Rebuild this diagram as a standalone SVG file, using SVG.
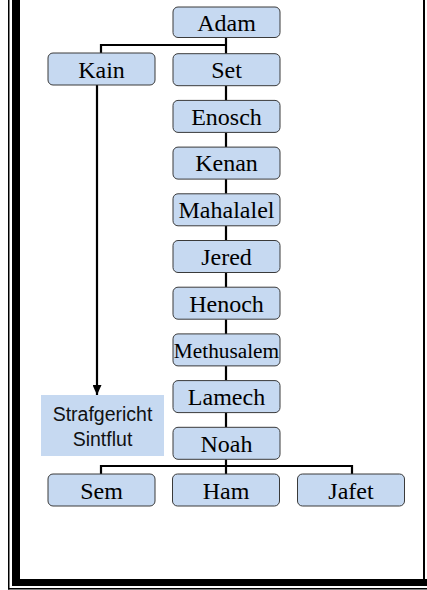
<svg xmlns="http://www.w3.org/2000/svg" width="427" height="590" viewBox="0 0 427 590">
<style>
.box{fill:#c6d9f1;stroke:#3a3a3a;stroke-width:1}
.t{font-family:"Liberation Serif","Times New Roman",serif;font-size:24px;fill:#000;text-anchor:middle}
.s{font-family:"Liberation Sans",Arial,sans-serif;font-size:19.5px;fill:#111;text-anchor:middle}
.c{stroke:#000;stroke-width:2.2;fill:none}
</style>
<defs>
<marker id="ah" markerWidth="10" markerHeight="9" refX="10" refY="4.5" orient="auto" markerUnits="userSpaceOnUse" viewBox="0 0 10 9">
<path d="M0,0 L10,4.5 L0,9 Z" fill="#000"/>
</marker>
</defs>
<rect width="427" height="590" fill="#fff"/>
<g id="frame" fill="#000">
<rect x="8" y="0" width="1.5" height="589.5"/>
<rect x="8" y="588" width="419" height="1.5"/>
<rect x="12" y="0" width="8" height="586"/>
<rect x="12" y="579" width="415" height="7"/>
<rect x="423" y="0" width="2" height="580"/>
</g>
<g id="connectors">
<path class="c" d="M226,37 V53.7 M226,45 H101 V53"/>
<path class="c" d="M226,85.7 V100.4 M226,132.4 V147.1 M226,179.1 V193.8 M226,225.8 V240.5 M226,272.5 V287.2 M226,319.2 V333.9 M226,365.9 V380.6 M226,412.6 V427.3"/>
<path class="c" d="M226,459.3 V474 M101,474 V466 H352 V474"/>
<path class="c" d="M97,85 V395" marker-end="url(#ah)"/>
</g>
<g id="adam"><rect class="box" x="173" y="7" width="107" height="30.5" rx="5"/><text class="t" x="226.5" y="30.5">Adam</text></g>
<g id="kain"><rect class="box" x="48" y="53" width="107" height="32" rx="5"/><text class="t" x="101.5" y="77.5">Kain</text></g>
<g id="set"><rect class="box" x="173" y="53.7" width="107" height="32" rx="5"/><text class="t" x="226.5" y="78">Set</text></g>
<g id="enosch"><rect class="box" x="173" y="100.4" width="107" height="32" rx="5"/><text class="t" x="226.5" y="124.7">Enosch</text></g>
<g id="kenan"><rect class="box" x="173" y="147.1" width="107" height="32" rx="5"/><text class="t" x="226.5" y="171.4">Kenan</text></g>
<g id="mahalalel"><rect class="box" x="173" y="193.8" width="107" height="32" rx="5"/><text class="t" x="226.5" y="218.1">Mahalalel</text></g>
<g id="jered"><rect class="box" x="173" y="240.5" width="107" height="32" rx="5"/><text class="t" x="226.5" y="264.8">Jered</text></g>
<g id="henoch"><rect class="box" x="173" y="287.2" width="107" height="32" rx="5"/><text class="t" x="226.5" y="311.5">Henoch</text></g>
<g id="methusalem"><rect class="box" x="173" y="333.9" width="107" height="32" rx="5"/><text class="t" x="226.5" y="358" style="font-size:21.3px">Methusalem</text></g>
<g id="lamech"><rect class="box" x="173" y="380.6" width="107" height="32" rx="5"/><text class="t" x="226.5" y="404.9">Lamech</text></g>
<g id="noah"><rect class="box" x="173" y="427.3" width="107" height="32" rx="5"/><text class="t" x="226.5" y="451.6">Noah</text></g>
<g id="strafgericht"><rect x="41" y="395" width="123" height="61" fill="#c6d9f1"/><text class="s" x="102.5" y="420.5">Strafgericht</text><text class="s" x="102.5" y="445.5">Sintflut</text></g>
<g id="sem"><rect class="box" x="48" y="474" width="107" height="32" rx="5"/><text class="t" x="101.5" y="498.5">Sem</text></g>
<g id="ham"><rect class="box" x="172.5" y="474" width="107" height="32" rx="5"/><text class="t" x="226" y="498.5">Ham</text></g>
<g id="jafet"><rect class="box" x="297.5" y="474" width="107" height="32" rx="5"/><text class="t" x="351" y="498.5">Jafet</text></g>
</svg>
